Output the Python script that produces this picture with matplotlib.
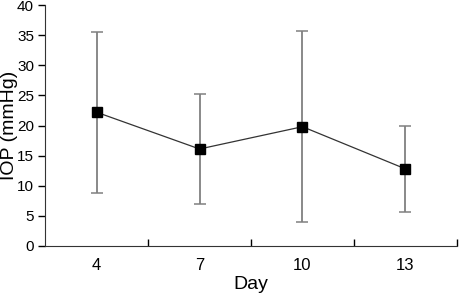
import matplotlib
matplotlib.use('Agg')
import matplotlib.pyplot as plt

days = ['4', '7', '10', '13']
iop_mean = [22.2, 16.1, 19.8, 12.8]
iop_sd = [13.4, 9.2, 15.9, 7.2]

plt.rcParams['font.family'] = ['Liberation Sans', 'DejaVu Sans']

fig = plt.figure(figsize=(4.61, 2.96), dpi=100)
ax = fig.add_axes([0.098, 0.169, 0.893, 0.814])

x = list(range(len(days)))
ax.errorbar(x, iop_mean, yerr=iop_sd, fmt='none', ecolor='#808080',
            elinewidth=1.3, capsize=4, capthick=1.1, zorder=1)
ax.plot(x, iop_mean, color='#333333', lw=0.9, marker='s', ms=7,
        mfc='black', mec='black', zorder=2)

ax.set_xlim(-0.5, 3.5)
ax.set_ylim(0, 40)
ax.set_yticks(range(0, 41, 5))
ax.set_xticks(x)
ax.set_xticklabels(days)
ax.set_xticks([0.5, 1.5, 2.5, 3.5], minor=True)
ax.tick_params(axis='x', which='major', length=0, labelsize=12, pad=9)
ax.tick_params(axis='x', which='minor', direction='in', length=5, width=1)
ax.tick_params(axis='y', direction='out', length=5, width=1, labelsize=11, pad=3)

ax.spines['top'].set_visible(False)
ax.spines['right'].set_visible(False)
ax.spines['left'].set_color('#333333')
ax.spines['bottom'].set_color('#333333')

ax.set_xlabel('Day', fontsize=14, labelpad=2)
ax.set_ylabel('IOP (mmHg)', fontsize=14)
ax.yaxis.set_label_coords(-0.066, 0.5)

fig.savefig('out.png', dpi=100)
